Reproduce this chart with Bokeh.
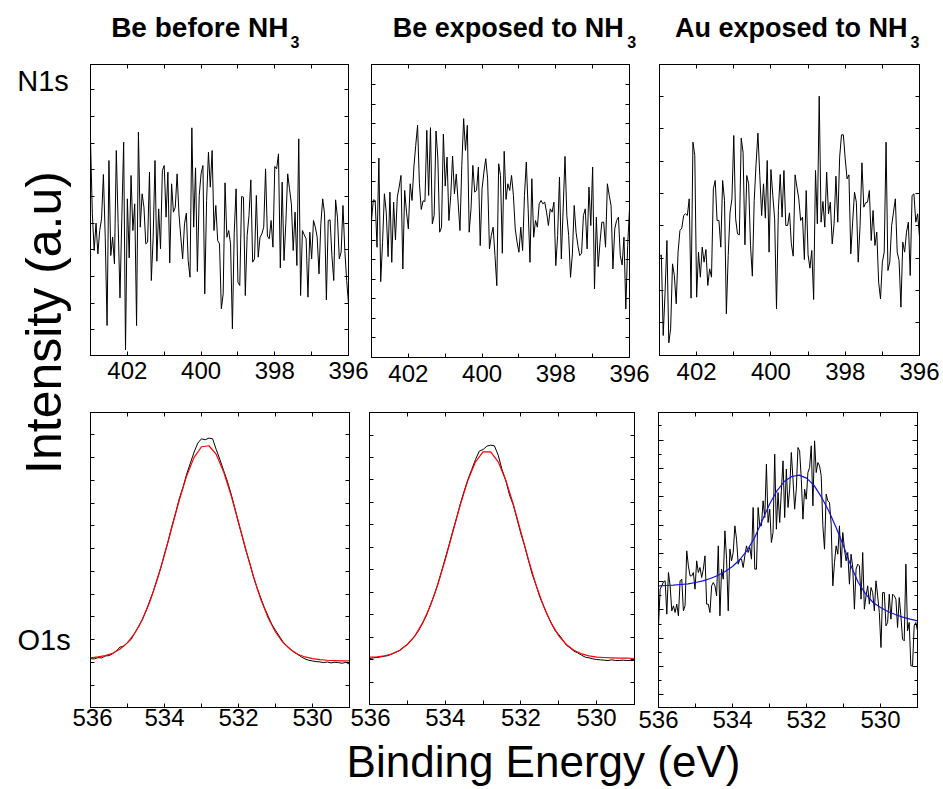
import numpy as np
from bokeh.plotting import figure
from bokeh.layouts import row, column
from bokeh.models import Range1d, FixedTicker, LinearAxis, Label
from bokeh.embed import file_html
from bokeh.resources import INLINE

FONT = "Liberation Sans"

# ---------------- data ----------------
panel_titles = ["Be before NH", "Be exposed to NH", "Au exposed to NH"]
subscript = "3"
row_labels = ["N1s", "O1s"]
x_label = "Binding Energy (eV)"
y_label = "Intensity (a.u)"

n1s_energy = (403, 396)
o1s_energy = (536, 529)
n1s_ticks = [396, 398, 400, 402]
n1s_minor = [397, 399, 401, 403]
o1s_ticks = [530, 532, 534, 536]
o1s_minor = [529, 531, 533, 535]

n1s_be_before = [647, 425, 315, 397, 305, 375, 410, 543, 355, 90, 585, 300, 355, 275, 615, 395, 173, 415, 640, 17,
                 470, 293, 540, 375, 455, 90, 670, 385, 485, 445, 335, 340, 550, 225, 355, 585, 283, 440, 320, 555,
                 570, 415, 550, 278, 515, 430, 445, 545, 425, 355, 290, 395, 427, 285, 235, 683, 385, 563, 252, 480,
                 545, 570, 185, 465, 610, 505, 615, 375, 450, 345, 335, 140, 185, 518, 355, 375, 335, 80, 370, 500,
                 220, 210, 477, 475, 180, 360, 420, 527, 280, 290, 480, 295, 355, 365, 385, 560, 358, 350, 405, 325,
                 567, 560, 605, 263, 520, 285, 397, 545, 500, 455, 315, 430, 270, 650, 180, 375, 362, 350, 175, 370,
                 290, 405, 385, 355, 245, 395, 470, 425, 167, 405, 407, 300, 225, 467, 415, 290, 310, 450, 315, 225,
                 155]

n1s_be_exposed = [410, 472, 470, 330, 597, 227, 345, 490, 435, 302, 495, 285, 465, 352, 480, 510, 545, 265, 500, 435,
                  385, 520, 470, 570, 635, 695, 520, 443, 469, 467, 680, 485, 688, 400, 425, 678, 597, 375, 390, 669,
                  513, 600, 410, 485, 603, 490, 549, 465, 380, 575, 715, 620, 695, 375, 445, 575, 495, 500, 570, 335,
                  505, 555, 595, 535, 325, 365, 390, 305, 215, 580, 545, 312, 617, 473, 520, 500, 545, 485, 385, 345,
                  315, 390, 320, 485, 585, 445, 285, 535, 360, 410, 390, 460, 470, 460, 465, 435, 395, 445, 435, 465,
                  275, 365, 540, 295, 445, 602, 425, 365, 240, 310, 455, 375, 335, 305, 312, 425, 445, 325, 510, 395,
                  570, 205, 420, 272, 345, 405, 405, 330, 520, 485, 455, 265, 385, 410, 420, 305, 277, 360, 145, 335,
                  445]

n1s_au_exposed = [295, 302, 60, 190, 345, 38, 80, 275, 240, 155, 310, 375, 382, 420, 425, 420, 470, 172, 640, 600,
                  175, 310, 235, 325, 280, 318, 210, 260, 235, 500, 525, 405, 405, 325, 525, 465, 125, 300, 430, 470,
                  660, 410, 365, 362, 652, 610, 332, 540, 515, 330, 238, 465, 575, 667, 540, 420, 515, 412, 585, 310,
                  558, 480, 410, 140, 435, 543, 415, 555, 390, 390, 428, 335, 298, 542, 505, 470, 405, 415, 288, 495,
                  302, 262, 315, 168, 555, 395, 778, 400, 462, 385, 550, 425, 460, 335, 395, 538, 400, 595, 662, 662,
                  590, 530, 542, 305, 400, 490, 460, 280, 390, 578, 445, 458, 460, 495, 345, 435, 330, 370, 220, 170,
                  280, 310, 640, 255, 280, 390, 430, 470, 310, 285, 145, 340, 310, 370, 400, 240, 480, 485, 400, 425,
                  355]

o1s_be_before = [147, 146, 150, 149, 155, 156, 162, 170, 182, 184, 195, 205, 225, 243, 265, 290, 320, 350, 386, 420,
                 462, 500, 545, 585, 628, 662, 702, 735, 768, 795, 808, 805, 810, 808, 775, 745, 712, 680, 642, 600,
                 555, 515, 472, 436, 395, 360, 330, 300, 275, 250, 232, 215, 198, 185, 176, 166, 160, 152, 146, 142,
                 140, 138, 137, 135, 137, 134, 136, 135, 133, 136, 130]
o1s_be_before_fit = [149, 152, 156, 163, 176, 195, 224, 264, 317, 383, 459, 542, 624, 697, 752, 784, 787, 761,
                     708, 638, 557, 474, 395, 326, 270, 227, 196, 175, 160, 152, 147, 144, 142, 141, 140, 140]

o1s_be_exposed = [138, 140, 141, 143, 145, 147, 152, 157, 162, 172, 180, 192, 206, 222, 244, 266, 296, 325, 360, 398,
                  438, 478, 520, 560, 602, 640, 675, 705, 735, 760, 765, 775, 778, 776, 748, 705, 672, 628, 598, 555,
                  512, 475, 432, 390, 358, 322, 296, 268, 245, 222, 210, 195, 178, 170, 160, 155, 148, 142, 140, 137,
                  135, 134, 133, 132, 134, 132, 132, 133, 132, 132, 132]
o1s_be_exposed_fit = [142, 143, 146, 152, 163, 180, 206, 244, 294, 358, 434, 517, 600, 673, 728, 758, 758, 728,
                      673, 600, 517, 434, 358, 294, 244, 206, 180, 163, 152, 146, 142, 141, 140, 139, 139, 138]

o1s_au_exposed = [245, 355, 365, 377, 380, 280, 405, 365, 290, 305, 285, 310, 275, 380, 385, 290, 305, 470, 425, 395,
                  395, 405, 355, 440, 405, 420, 390, 415, 455, 310, 310, 285, 365, 375, 365, 335, 485, 275, 415, 385,
                  530, 445, 290, 475, 440, 465, 545, 505, 430, 445, 445, 420, 455, 485, 465, 480, 445, 600, 415, 415,
                  600, 545, 545, 620, 570, 730, 555, 595, 495, 525, 760, 535, 645, 555, 650, 740, 570, 715, 600, 655,
                  765, 685, 595, 655, 780, 770, 685, 565, 655, 625, 705, 720, 785, 605, 800, 705, 735, 725, 695, 545,
                  475, 640, 620, 615, 550, 365, 435, 485, 460, 545, 420, 525, 475, 440, 465, 370, 460, 420, 295, 415,
                  430, 425, 325, 465, 295, 335, 365, 310, 360, 345, 290, 380, 335, 285, 180, 345, 345, 245, 255, 340,
                  265, 340, 335, 325, 240, 330, 275, 205, 200, 430, 230, 255, 125, 125, 245, 255, 230]
o1s_au_exposed_fit = [365, 366, 367, 369, 371, 375, 380, 387, 396, 408, 423, 444, 472, 510, 560, 610, 650, 678,
                      693, 697, 688, 667, 632, 590, 540, 485, 425, 375, 340, 315, 300, 288, 279, 271, 265, 260]


def grid(rng, values):
    return np.linspace(rng[0], rng[1], len(values))


def style_axis(ax, ticker, label_size=None, standoff=0, tick_in=4, minor_in=4):
    ax.ticker = ticker
    ax.axis_line_color = "black"
    ax.axis_line_width = 1
    ax.major_tick_line_color = "black"
    ax.minor_tick_line_color = "black"
    ax.major_tick_in = tick_in
    ax.major_tick_out = 0
    ax.minor_tick_in = minor_in
    ax.minor_tick_out = 0
    ax.axis_label = None
    if label_size:
        ax.major_label_text_font = FONT
        ax.major_label_text_font_size = label_size
        ax.major_label_text_color = "black"
        ax.major_label_standoff = standoff
    else:
        ax.major_label_text_font_size = "0px"
        ax.major_label_text_color = None
        ax.major_label_standoff = 0


def panel(fw, fh, bl, br, bt, bb, xr, yr, xt, xm, yt, ym, standoff, ytick_in=4, yminor_in=0):
    p = figure(frame_width=fw, frame_height=fh, min_border_left=bl, min_border_right=br,
               min_border_top=bt, min_border_bottom=bb, x_range=Range1d(*xr), y_range=Range1d(*yr),
               toolbar_location=None, output_backend="svg", tools="", title=None)
    p.xgrid.visible = False
    p.ygrid.visible = False
    p.outline_line_color = "black"
    p.outline_line_width = 1
    xtick = FixedTicker(ticks=xt, minor_ticks=xm)
    ytick = FixedTicker(ticks=yt, minor_ticks=ym)
    style_axis(p.xaxis[0], xtick, "24px", standoff)
    style_axis(p.yaxis[0], ytick, tick_in=ytick_in, minor_in=yminor_in)
    top = LinearAxis()
    style_axis(top, xtick)
    p.add_layout(top, "above")
    right = LinearAxis()
    style_axis(right, ytick, tick_in=ytick_in, minor_in=yminor_in)
    p.add_layout(right, "right")
    return p


def text_fig(w, h):
    f = figure(width=w, height=h, x_range=Range1d(0, 1), y_range=Range1d(0, 1), min_border=0,
               toolbar_location=None, output_backend="svg", tools="", title=None,
               x_axis_location=None, y_axis_location=None)
    f.xgrid.visible = False
    f.ygrid.visible = False
    f.outline_line_color = None
    return f


def put(f, x, y, text, size, bold=False, align="left", angle=0.0):
    f.add_layout(Label(x=x, y=y, x_units="screen", y_units="screen", text=text, angle=angle,
                       text_align=align, text_baseline="alphabetic", text_font=FONT,
                       text_font_size=size, text_font_style="bold" if bold else "normal",
                       text_color="black"))


yt1 = [77 + 80 * k for k in range(10)]
yt2 = [60 + 58.2 * k for k in range(14)]
yt3 = [98 + 97 * k for k in range(8)]
yt4 = [67 + 68.4 * k for k in range(12)]
yt5 = [67 + 67.4 * k for k in range(12)]
yt6 = [38 + 84.9 * k for k in range(10)]
ym6 = [80.5 + 84.9 * k for k in range(10)]

p1 = panel(258, 291, 18, 21, 14, 37, n1s_energy, (0, 873), n1s_ticks, n1s_minor, yt1, [], 6)
p2 = panel(258, 293, 2, 20, 9, 40, n1s_energy, (0, 877), n1s_ticks, n1s_minor, yt2, [], 7)
p3 = panel(260, 291, 10, 22, 12, 39, n1s_energy, (0, 873), n1s_ticks, n1s_minor, yt3, [], 7)
p4 = panel(259, 295, 18, 1, 20, 29, o1s_energy, (0, 887), o1s_ticks, o1s_minor, yt4, [], 1)
p5 = panel(265, 292, 19, 3, 19, 33, o1s_energy, (0, 876), o1s_ticks, o1s_minor, yt5, [], 4)
p6 = panel(259, 295, 21, 20, 18, 31, o1s_energy, (0, 885), o1s_ticks, o1s_minor, yt6, ym6, 3,
           ytick_in=5, yminor_in=3)

p1.line(grid(n1s_energy, n1s_be_before), n1s_be_before, line_color="black", line_width=1)
p2.line(grid(n1s_energy, n1s_be_exposed), n1s_be_exposed, line_color="black", line_width=1)
p3.line(grid(n1s_energy, n1s_au_exposed), n1s_au_exposed, line_color="black", line_width=1)

p4.line(grid(o1s_energy, o1s_be_before), o1s_be_before, line_color="black", line_width=1)
p4.line(grid(o1s_energy, o1s_be_before_fit), o1s_be_before_fit, line_color="#ff0000", line_width=1.2)
p5.line(grid(o1s_energy, o1s_be_exposed), o1s_be_exposed, line_color="black", line_width=1)
p5.line(grid(o1s_energy, o1s_be_exposed_fit), o1s_be_exposed_fit, line_color="#ff0000", line_width=1.2)
p6.line(grid(o1s_energy, o1s_au_exposed), o1s_au_exposed, line_color="black", line_width=1)
p6.line(grid(o1s_energy, o1s_au_exposed_fit), o1s_au_exposed_fit, line_color="#1010e0", line_width=1.2)

# titles row (x measured from x=72, y from the bottom of the 50px band)
titles = text_fig(869, 50)
put(titles, 216, 23.5, panel_titles[0], "28px", bold=True, align="right")
put(titles, 218, 8.2, subscript, "16px", bold=True)
put(titles, 551.3, 22.5, panel_titles[1], "27px", bold=True, align="right")
put(titles, 554.7, 8.7, subscript, "16px", bold=True)
put(titles, 835, 22.5, panel_titles[2], "27px", bold=True, align="right")
put(titles, 838, 8.7, subscript, "16px", bold=True)

left = text_fig(72, 736)
put(left, 16.7, 655.6, row_labels[0], "29px")
put(left, 17, 96.3, row_labels[1], "29px")
put(left, 43.5, 414, y_label, "50px", align="center", angle=np.pi / 2)

bottom = text_fig(941, 52)
put(bottom, 543, 27, x_label, "44px", align="center")

layout = column(row(left, column(titles, row(p1, p2, p3), row(p4, p5, p6))), bottom)

open("out.html", "w").write(file_html(layout, INLINE))
